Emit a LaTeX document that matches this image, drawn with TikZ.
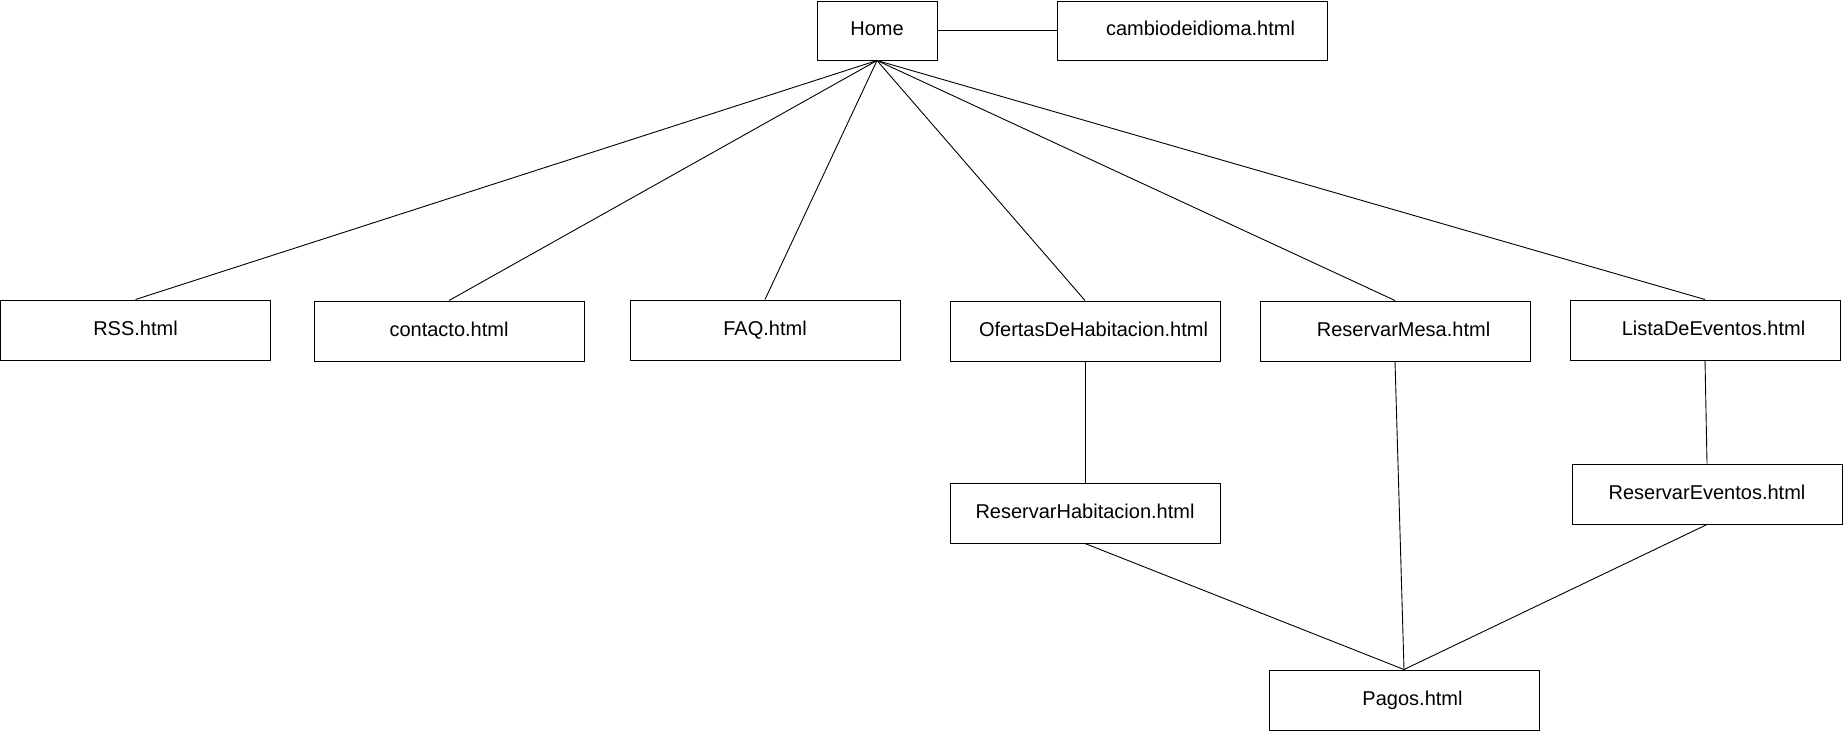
\documentclass[tikz,border=0pt]{standalone}
\usepackage{fontspec}
\setmainfont{Liberation Sans}
\begin{document}
\begin{tikzpicture}[x=1pt,y=-1pt,
  page/.style={draw=black, line width=1pt, minimum width=270pt, minimum height=60pt,
    inner sep=0pt, text height=12pt, text depth=2pt, font=\fontsize{20}{24}\selectfont},
  link/.style={draw=black, line width=0.9pt}]
\useasboundingbox (0,0) rectangle (1843,731);
\node[page, minimum width=120pt, minimum height=59pt] (home) at (877,30.5) {Home};
\node[page, minimum height=59pt] (cambio) at (1192,30.5) {\hspace*{17pt}cambiodeidioma.html};
\node[page] (rss) at (135.5,330) {RSS.html};
\node[page] (contacto) at (449,331) {contacto.html};
\node[page] (faq) at (765,330) {FAQ.html};
\node[page] (ofertas) at (1085,331) {\hspace*{17pt}OfertasDeHabitacion.html};
\node[page] (mesa) at (1395,331) {\hspace*{17pt}ReservarMesa.html};
\node[page] (lista) at (1705,330) {\hspace*{17pt}ListaDeEventos.html};
\node[page] (habitacion) at (1085,513) {ReservarHabitacion.html};
\node[page] (eventos) at (1707,494) {ReservarEventos.html};
\node[page] (pagos) at (1404,700) {\hspace*{17pt}Pagos.html};
\draw[link] (home.east) -- (cambio.west);
\foreach \t in {rss,contacto,faq,ofertas,mesa,lista}
  \draw[link] (home.south) -- (\t.north);
\draw[link] (ofertas.south) -- (habitacion.north);
\draw[link] (mesa.south) -- (pagos.north);
\draw[link] (lista.south) -- (eventos.north);
\draw[link] (habitacion.south) -- (pagos.north);
\draw[link] (eventos.south) -- (pagos.north);
\end{tikzpicture}
\end{document}
